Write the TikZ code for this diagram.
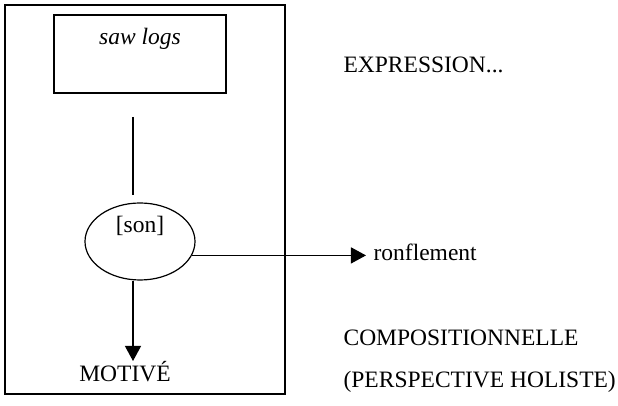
\documentclass[tikz,border=0pt]{standalone}
\usepackage{fontspec}
\setmainfont{Liberation Serif}
\usetikzlibrary{shapes.geometric,arrows.meta}

\tikzset{
  txt/.style={inner sep=0pt, font=\fontsize{11.75}{14}\selectfont},
  fleche/.style={-{Triangle[width=8pt,length=7.5pt]}},
}

\begin{document}
\begin{tikzpicture}[x=0.5pt,y=-0.5pt,line width=0.6pt]
			\useasboundingbox (0,0) rectangle (618,406);
			%Cadre
			\draw (5,5) rectangle (285,394);
			
			%Boite du haut
			\node[draw, minimum width=86pt, minimum height=39pt] (logs) at (140,54) {};
			\node[txt, anchor=base] (logstxt) at (140,45) {\itshape saw logs};
			\coordinate (lt) at (133,117);
			
			%Ellipse
			\node[draw, ellipse, minimum width=55pt, minimum height=38.5pt] (son) at (140,241.5) {};
			\node[txt, anchor=base] (sontxt) at (140,233) {[son]};
			\draw[shorten >=3.5pt] (lt) -- (lt |- son.north);
			
			%Bas
			\node[txt, anchor=base] (mot) at (125,382) {MOTIVÉ};
			\coordinate (motend) at (133,361);
			\draw[fleche] (motend |- son.south) -- (motend);
			
			%Droite
			\node[txt, anchor=base west] (expr) at (343,73) {EXPRESSION...};
			\node[txt, anchor=base west] (ron) at (373,261) {ronflement};
			\draw[fleche, shorten >=3.5pt] (son.-15) -- (son.-15 -| ron.west);
			\node[txt, anchor=base west] (comp) at (343,346) {COMPOSITIONNELLE};
			\node[txt, anchor=base west] (persp) at (343,388) {(PERSPECTIVE HOLISTE)};
		\end{tikzpicture}
\end{document}
